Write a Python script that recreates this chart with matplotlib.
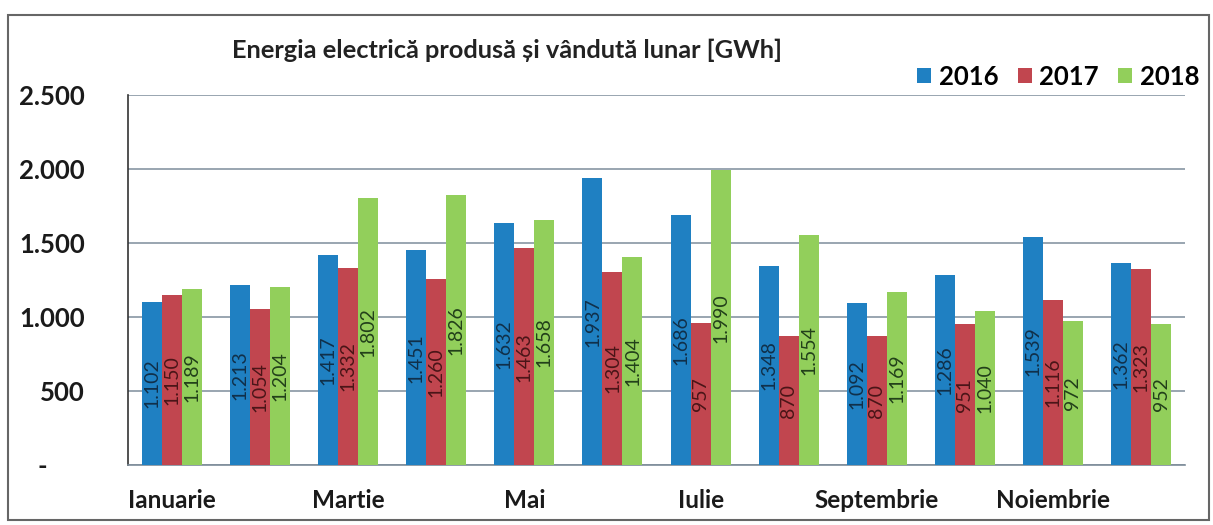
import matplotlib
matplotlib.use("Agg")
import matplotlib.pyplot as plt
import numpy as np
from matplotlib.patches import Rectangle

months = ["Ianuarie", "Februarie", "Martie", "Aprilie", "Mai", "Iunie",
          "Iulie", "August", "Septembrie", "Octombrie", "Noiembrie", "Decembrie"]
years = ["2016", "2017", "2018"]
v2016 = [1102, 1213, 1417, 1451, 1632, 1937, 1686, 1348, 1092, 1286, 1539, 1362]
v2017 = [1150, 1054, 1332, 1260, 1463, 1304, 957, 870, 870, 951, 1116, 1323]
v2018 = [1189, 1204, 1802, 1826, 1658, 1404, 1990, 1554, 1169, 1040, 972, 952]
yticks = [0, 500, 1000, 1500, 2000, 2500]
ytick_labels = ["-      ", "500", "1.000", "1.500", "2.000", "2.500"]

colors = ["#1f80c2", "#c1464f", "#92cf5b"]
label_colors = ["#10304a", "#4a1518", "#22401a"]
series = [v2016, v2017, v2018]

plt.rcParams['font.family'] = ['Lato', 'DejaVu Sans']

fig = plt.figure(figsize=(12.13, 5.25), dpi=100)
ax = fig.add_axes([0.1055, 0.1143, 0.977 - 0.1055, 0.819 - 0.1143])

x = np.arange(len(months))
w = 0.227
for k, (vals, c, lc, yr) in enumerate(zip(series, colors, label_colors, years)):
    pos = x + (k - 1) * w
    bars = ax.bar(pos, vals, width=w, color=c, label=yr, zorder=3)
    for b, v in zip(bars, vals):
        s = f"{v:,}".replace(",", ".")
        ax.text(b.get_x() + b.get_width() / 2, v / 2, s, rotation=90,
                ha='center', va='center', fontsize=14, color=lc, zorder=4)

ax.set_xlim(-0.5, 11.5)
ax.set_ylim(0, 2500)
ax.set_yticks(yticks)
ax.set_yticklabels(ytick_labels, fontsize=18.5, fontweight='bold', color='#1a1a1a')
ax.set_xticks(x[::2])
ax.set_xticklabels(months[::2], fontsize=17.5, fontweight='bold', color='#1a1a1a')
ax.tick_params(axis='both', length=0)
ax.tick_params(axis='y', pad=31)
ax.tick_params(axis='x', pad=17)
ax.grid(axis='y', color='#8796a3', linewidth=1.2, zorder=0)
for side in ['top', 'right']:
    ax.spines[side].set_visible(False)
ax.spines['left'].set_color('#333333')
ax.spines['left'].set_linewidth(1.2)
ax.spines['bottom'].set_color('#7d8c99')
ax.spines['bottom'].set_linewidth(1.2)

fig.text(0.191, 0.905, "Energia electrică produsă și vândută lunar [GWh]",
         fontsize=18.3, fontweight='bold', ha='left', va='center', color='#222222')

ax.legend(loc='center right', bbox_to_anchor=(1.0138, 1.05), ncol=3, frameon=False,
          prop={'size': 18.5, 'weight': 'bold'}, handlelength=0.55, handleheight=0.55,
          handletextpad=0.3, columnspacing=0.75, borderaxespad=0, borderpad=0)

fig.patches.append(Rectangle((0.007, 0.01), 0.99, 0.962, transform=fig.transFigure,
                             fill=False, edgecolor='#666666', linewidth=1.5))

fig.savefig("out.png", dpi=100)
